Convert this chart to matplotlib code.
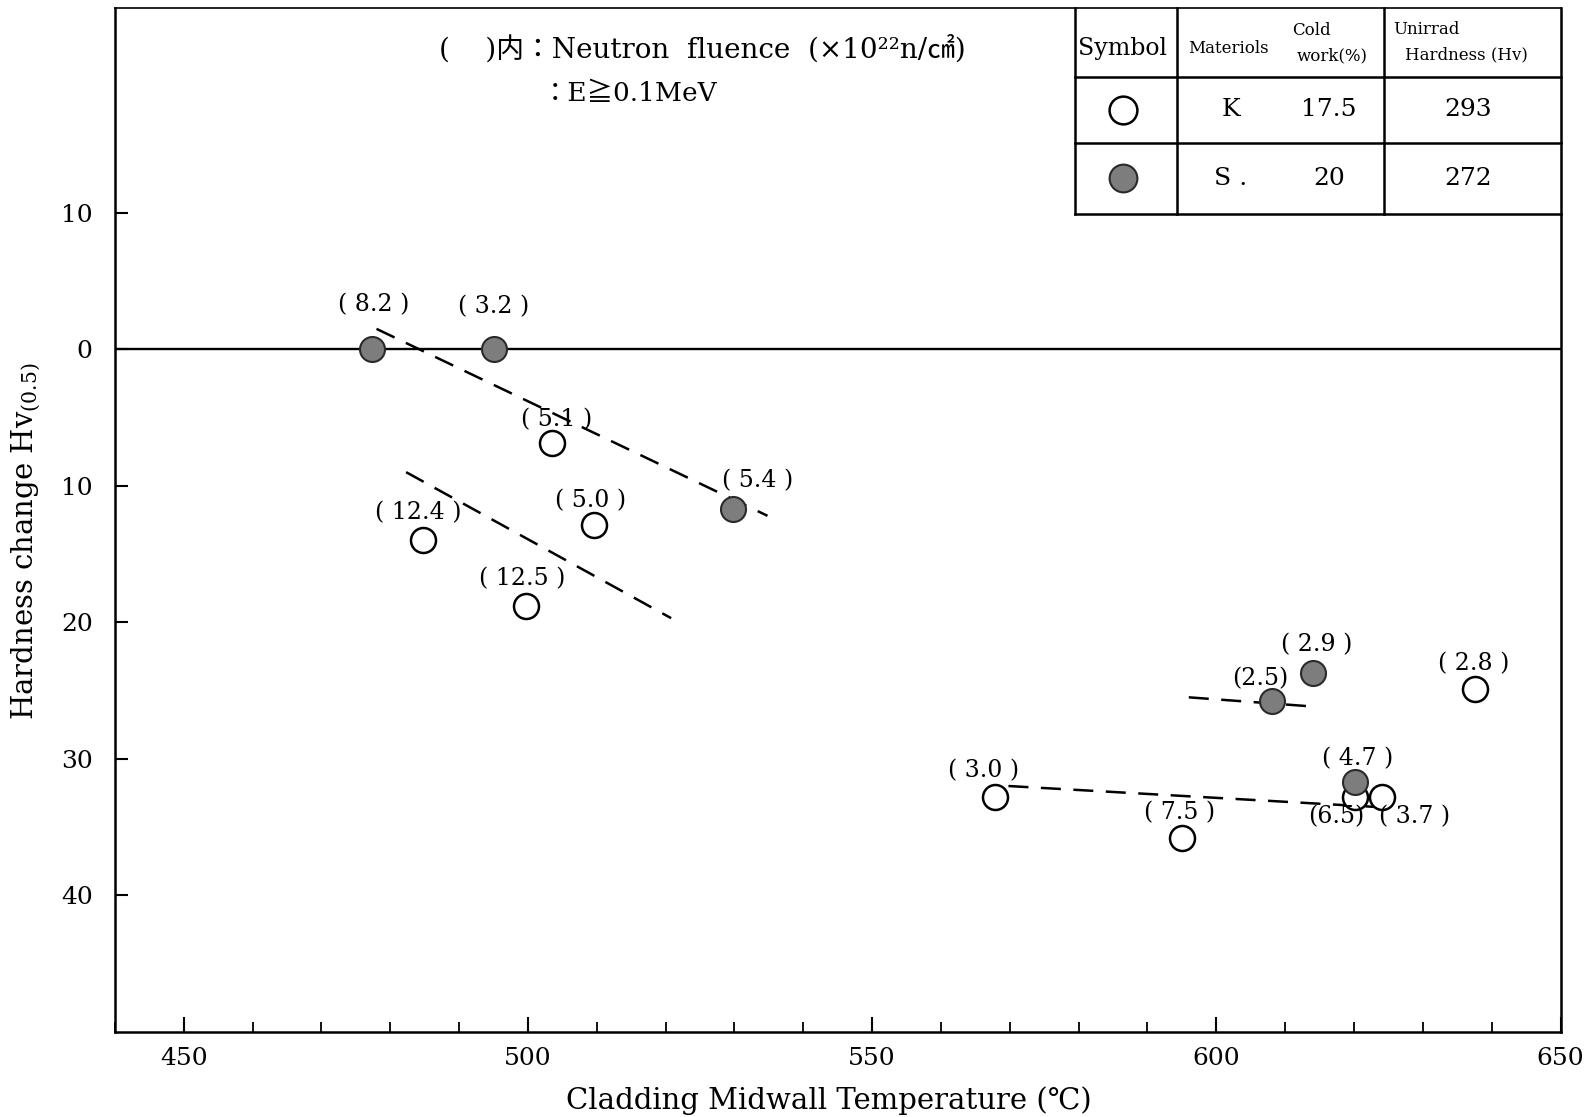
import matplotlib
matplotlib.use("Agg")
import matplotlib.pyplot as plt
from matplotlib.ticker import FixedLocator, MultipleLocator, FuncFormatter

plt.rcParams['font.family'] = ['DejaVu Serif', 'Noto Sans CJK JP']
plt.rcParams['mathtext.fontset'] = 'dejavuserif'

# Material K (17.5 % cold work) - open circles
k_temp = [503.5, 484.7, 509.6, 499.7, 637.6, 567.8, 595.0, 620.2, 624.0]
k_change = [-6.9, -14.0, -12.9, -18.8, -24.9, -32.8, -35.8, -32.8, -32.8]
k_fluence = ["5.1", "12.4", "5.0", "12.5", "2.8", "3.0", "7.5", "6.5", "3.7"]

# Material S (20 % cold work) - filled circles
s_temp = [477.3, 495.1, 529.8, 614.0, 608.1, 620.2]
s_change = [0.0, 0.0, -11.7, -23.7, -25.8, -31.7]
s_fluence = ["8.2", "3.2", "5.4", "2.9", "2.5", "4.7"]

# Hand-drawn trend lines: (temperature start, end), (change start, end)
trend_temp = [(478.0, 534.8), (482.3, 520.8), (596.0, 614.7), (569.8, 625.5)]
trend_change = [(1.5, -12.2), (-9.0, -19.7), (-25.5, -26.2), (-32.0, -33.6)]

y_ticks = [10, 0, -10, -20, -30, -40]
x_ticks = [450, 500, 550, 600, 650]

# Legend table contents
table_rows = [["K", "17.5", "293"], ["S .", "20", "272"]]

# label offsets in pixels for the fluence annotations
k_offsets = [(5, 24), (-4, 28), (-3, 25), (-4, 27), (-1, 25), (-11, 26), (-2, 25), (-19, -20), (33, -20)]
s_offsets = [(2, 45), (-1, 43), (25, 28), (4, 28), (-12, 23), (2, 23)]
k_tight = [False, False, False, False, False, False, False, True, False]
s_tight = [False, False, False, False, True, False]

fig = plt.figure(figsize=(15.94, 11.17), dpi=100)
ax = fig.add_axes([0.0721, 0.0764, 0.979 - 0.0721, 0.9927 - 0.0764])
ax.set_xlim(440, 650)
ax.set_ylim(-50, 25)

for sp in ax.spines.values():
    sp.set_linewidth(1.8)
ax.spines['top'].set_linewidth(1.2)

ax.axhline(0, color='black', lw=1.7, zorder=1)

for (x0, x1), (y0, y1) in zip(trend_temp, trend_change):
    ax.plot([x0, x1], [y0, y1], color='black', lw=1.8, dashes=(8, 5), zorder=2)

ax.plot(k_temp, k_change, 'o', ms=18, mfc='white', mec='black', mew=1.8, zorder=3)
ax.plot(s_temp, s_change, 'o', ms=18, mfc='#7d7d7d', mec='#2a2a2a', mew=1.5, zorder=4)


def fluence_label(value, tight):
    return f"({value})" if tight else f"( {value} )"


for x, y, f, (dx, dy), t in zip(k_temp, k_change, k_fluence, k_offsets, k_tight):
    ax.annotate(fluence_label(f, t), (x, y), xytext=(dx, dy), textcoords='offset pixels',
                ha='center', va='center', fontsize=17, zorder=5)
for x, y, f, (dx, dy), t in zip(s_temp, s_change, s_fluence, s_offsets, s_tight):
    ax.annotate(fluence_label(f, t), (x, y), xytext=(dx, dy), textcoords='offset pixels',
                ha='center', va='center', fontsize=17, zorder=5)

# axes ticks
ax.yaxis.set_major_locator(FixedLocator(y_ticks))
ax.yaxis.set_major_formatter(FuncFormatter(lambda v, p: f"{abs(v):.0f}"))
ax.xaxis.set_major_locator(FixedLocator(x_ticks))
ax.xaxis.set_minor_locator(MultipleLocator(10))
ax.tick_params(axis='y', direction='in', length=9, width=1.5, labelsize=18, pad=16)
ax.tick_params(axis='x', which='major', direction='in', length=11, width=1.5, labelsize=18, pad=11)
ax.tick_params(axis='x', which='minor', direction='in', length=7, width=1.3)

ax.set_xlabel("Cladding Midwall Temperature (℃)", fontsize=21)
ax.xaxis.set_label_coords(0.494, -0.053)
ax.set_ylabel("Hardness change Hv$_{(0.5)}$", fontsize=21)
ax.yaxis.set_label_coords(-0.050, 0.479)

# fluence note
ax.text(0.224, 0.960, "(    )内：Neutron  fluence  (×10²²n/㎠)", transform=ax.transAxes,
        ha='left', va='center', fontsize=20)
ax.text(0.295, 0.9166, "：E≧0.1MeV", transform=ax.transAxes,
        ha='left', va='center', fontsize=19)

# legend table
tx = [0.664, 0.735, 0.878, 1.0]
ty = [1.0, 0.933, 0.868, 0.799]
lw_t = 1.8
ax.plot([tx[0], tx[0]], [ty[-1], 1.0], color='black', lw=lw_t, transform=ax.transAxes, clip_on=False)
for x in tx[1:3]:
    ax.plot([x, x], [ty[-1], 1.0], color='black', lw=lw_t, transform=ax.transAxes, clip_on=False)
for y in ty[1:]:
    ax.plot([tx[0], 1.0], [y, y], color='black', lw=lw_t, transform=ax.transAxes, clip_on=False)

ax.text(0.697, 0.9605, "Symbol", transform=ax.transAxes, ha='center', va='center', fontsize=17)
ax.text(0.770, 0.9605, "Materiols", transform=ax.transAxes, ha='center', va='center', fontsize=12)
ax.text(0.8277, 0.978, "Cold", transform=ax.transAxes, ha='center', va='center', fontsize=12)
ax.text(0.8418, 0.9533, "work(%)", transform=ax.transAxes, ha='center', va='center', fontsize=12)
ax.text(0.884, 0.979, "Unirrad", transform=ax.transAxes, ha='left', va='center', fontsize=12)
ax.text(0.8924, 0.9543, "Hardness (Hv)", transform=ax.transAxes, ha='left', va='center', fontsize=12)

row_y = [0.9007, 0.834]
col_x = [0.772, 0.840, 0.936]
for y, row in zip(row_y, table_rows):
    for x, val in zip(col_x, row):
        ax.text(x, y, val, transform=ax.transAxes, ha='center', va='center', fontsize=18)

ax.plot([0.6976], [row_y[0]], 'o', ms=20, mfc='white', mec='black', mew=1.8,
        transform=ax.transAxes, clip_on=False)
ax.plot([0.6976], [row_y[1]], 'o', ms=20, mfc='#7d7d7d', mec='#2a2a2a', mew=1.5,
        transform=ax.transAxes, clip_on=False)

fig.savefig("out.png", dpi=100)
